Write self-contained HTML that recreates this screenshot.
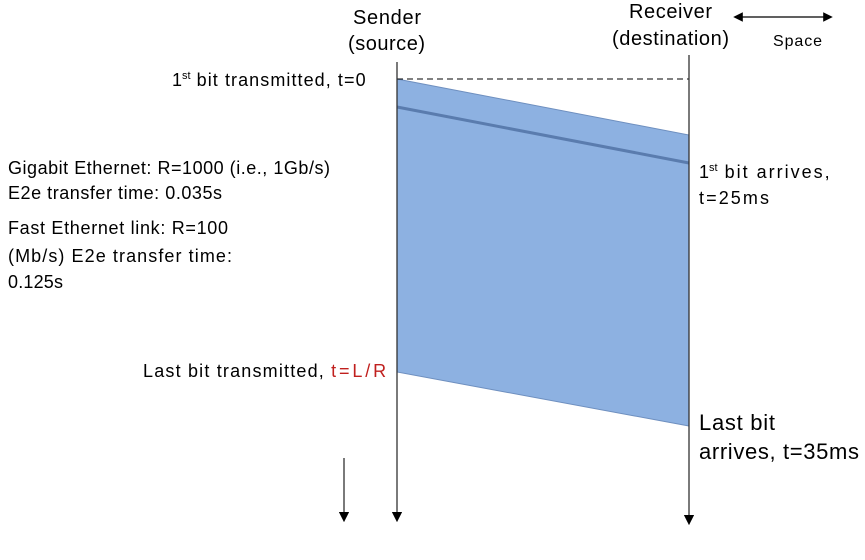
<!DOCTYPE html>
<html><head><meta charset="utf-8"><style>
body{margin:0;background:#fff;}
svg{display:block;font-family:"Liberation Sans",Arial,sans-serif;}
</style></head><body>
<svg width="865" height="560" viewBox="0 0 865 560">
<defs><marker id="ah" markerWidth="8" markerHeight="8" refX="4" refY="4" orient="auto"><path d="M0,0 L8,4 L0,8 z" fill="#000"/></marker>
<marker id="ah2" markerWidth="8" markerHeight="8" refX="4" refY="4" orient="auto-start-reverse"><path d="M0,0 L8,4 L0,8 z" fill="#000"/></marker></defs>
<polygon points="397,79 689,135 689,426 397,372" fill="#8DB1E1" stroke="#6E8FBF" stroke-width="1"/>
<line x1="397" y1="107" x2="689" y2="163" stroke="#5A7CAE" stroke-width="3"/>
<line x1="397" y1="79" x2="689" y2="79" stroke="#000" stroke-dasharray="6,4" stroke-width="1"/>
<line x1="397" y1="62" x2="397" y2="517" stroke="#333" stroke-width="1.3" marker-end="url(#ah)"/>
<line x1="689" y1="55" x2="689" y2="520" stroke="#333" stroke-width="1.3" marker-end="url(#ah)"/>
<line x1="344" y1="458" x2="344" y2="517" stroke="#333" stroke-width="1.3" marker-end="url(#ah)"/>
<line x1="738" y1="17" x2="828" y2="17" stroke="#000" stroke-width="1.2" marker-end="url(#ah2)" marker-start="url(#ah2)"/>
<g font-size="20" fill="#000">
<text x="353" y="24" textLength="68">Sender</text>
<text x="348" y="50" textLength="77">(source)</text>
<text x="629" y="18" textLength="83">Receiver</text>
<text x="612" y="45" textLength="117">(destination)</text>
</g>
<text x="773" y="46" font-size="16" textLength="49">Space</text>
<g font-size="18" fill="#000">
<text x="172" y="86">1<tspan font-size="11" dy="-7">st</tspan><tspan dy="7" textLength="175"> bit transmitted, t=0</tspan></text>
<text x="8" y="174" textLength="322">Gigabit Ethernet: R=1000 (i.e., 1Gb/s)</text>
<text x="8" y="199" textLength="214">E2e transfer time: 0.035s</text>
<text x="8" y="234" textLength="220">Fast Ethernet link: R=100</text>
<text x="8" y="262" textLength="224">(Mb/s) E2e transfer time:</text>
<text x="8" y="288" textLength="55">0.125s</text>
<text x="143" y="377"><tspan textLength="187">Last bit transmitted, </tspan><tspan fill="#C0201E" textLength="55">t=L/R</tspan></text>
<text x="699" y="178">1<tspan font-size="11" dy="-7">st</tspan><tspan dy="7" textLength="112"> bit arrives,</tspan></text>
<text x="699" y="204" textLength="70">t=25ms</text>
</g>
<g font-size="22" fill="#000">
<text x="699" y="430" textLength="76">Last bit</text>
<text x="699" y="459" textLength="160">arrives, t=35ms</text>
</g>
</svg>
</body></html>
